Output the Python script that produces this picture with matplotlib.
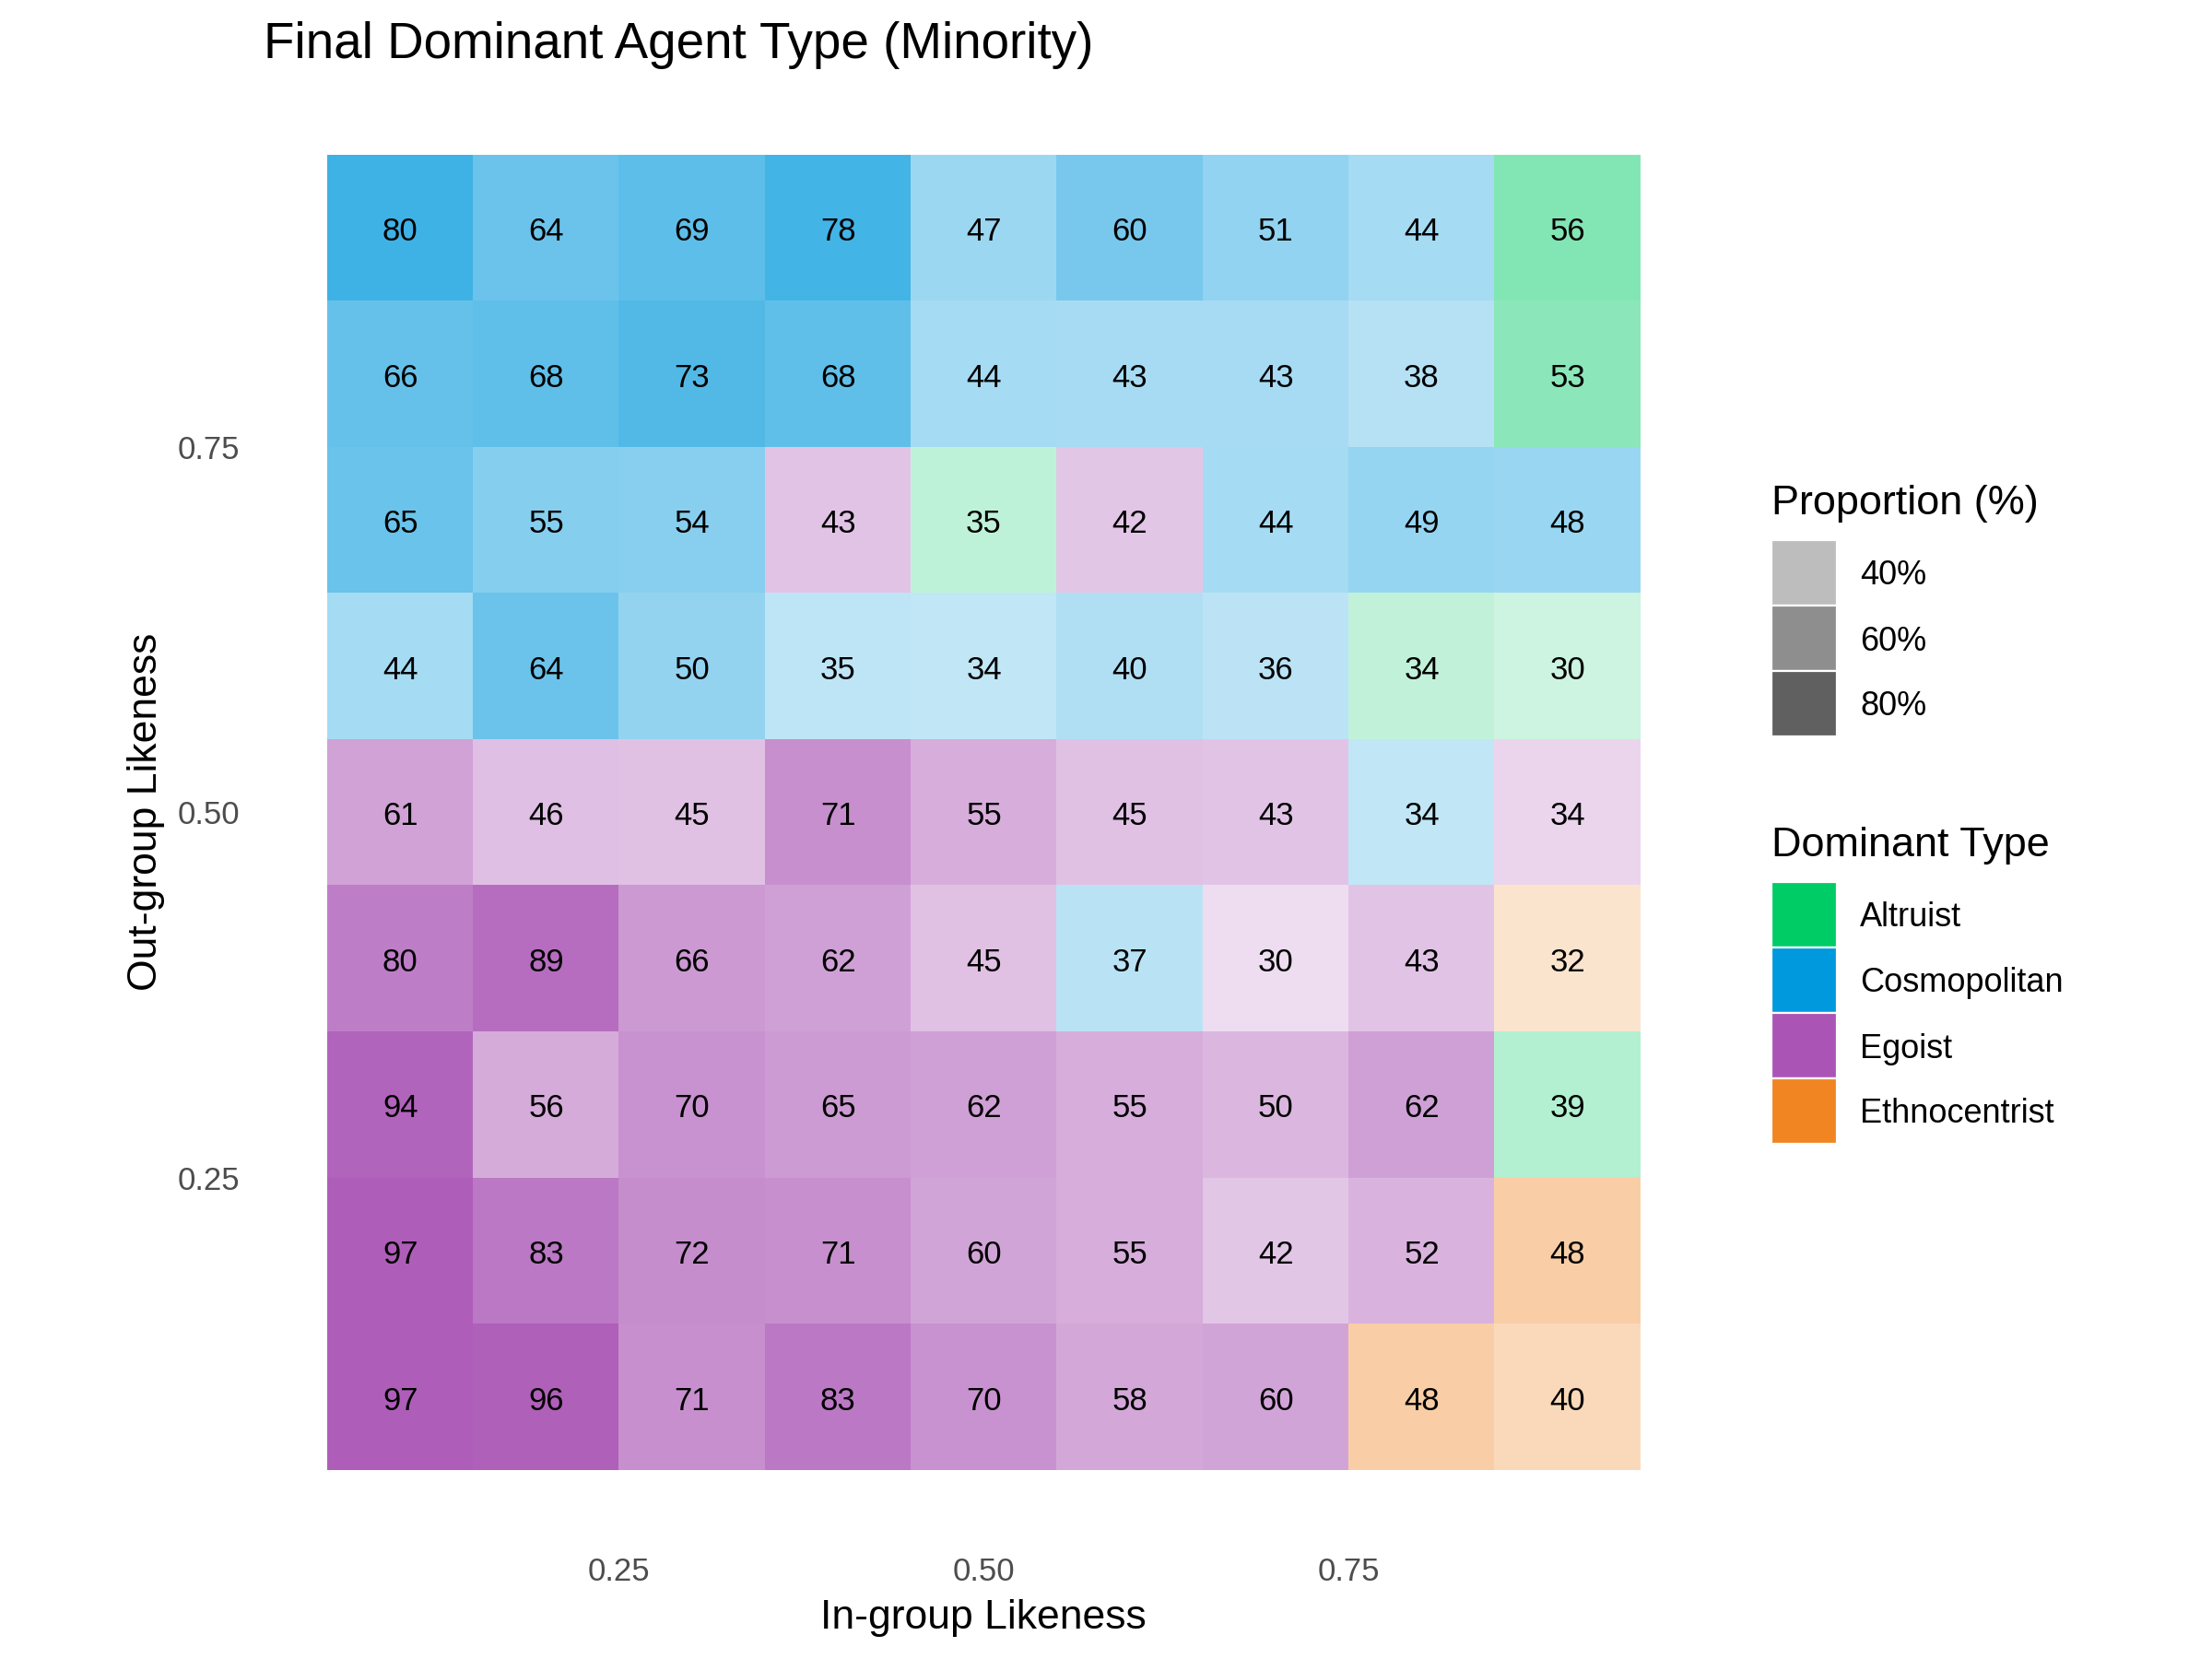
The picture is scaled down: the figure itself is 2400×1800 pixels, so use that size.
import numpy as np
import matplotlib
matplotlib.use("Agg")
import matplotlib.pyplot as plt
from matplotlib.colors import to_rgba
from matplotlib.patches import Rectangle

plt.rcParams['font.family'] = ['Liberation Sans', 'DejaVu Sans']

# tile centres
in_group = [0.1, 0.2, 0.3, 0.4, 0.5, 0.6, 0.7, 0.8, 0.9]
out_group = [0.9, 0.8, 0.7, 0.6, 0.5, 0.4, 0.3, 0.2, 0.1]   # rows listed top to bottom

# proportion (%) of the dominant type, rows from out-group 0.9 down to 0.1
proportion = [
    [80, 64, 69, 78, 47, 60, 51, 44, 56],
    [66, 68, 73, 68, 44, 43, 43, 38, 53],
    [65, 55, 54, 43, 35, 42, 44, 49, 48],
    [44, 64, 50, 35, 34, 40, 36, 34, 30],
    [61, 46, 45, 71, 55, 45, 43, 34, 34],
    [80, 89, 66, 62, 45, 37, 30, 43, 32],
    [94, 56, 70, 65, 62, 55, 50, 62, 39],
    [97, 83, 72, 71, 60, 55, 42, 52, 48],
    [97, 96, 71, 83, 70, 58, 60, 48, 40],
]
# A = Altruist, C = Cosmopolitan, G = Egoist, E = Ethnocentrist
dominant = [
    "CCCCCCCCA",
    "CCCCCCCCA",
    "CCCGAGCCC",
    "CCCCCCCAA",
    "GGGGGGGCG",
    "GGGGGCGGE",
    "GGGGGGGGA",
    "GGGGGGGGE",
    "GGGGGGGEE",
]
type_names = ["Altruist", "Cosmopolitan", "Egoist", "Ethnocentrist"]
type_codes = ["A", "C", "G", "E"]
type_colors = ["#00CC66", "#0099DD", "#AA55B5", "#F08522"]
legend_props = [40, 60, 80]
x_ticks = [0.25, 0.50, 0.75]
y_ticks = [0.25, 0.50, 0.75]

prop = np.array(proportion, dtype=float)
pmin, pmax = prop.min(), prop.max()


def alpha_of(p):
    # like scale_alpha(range = c(0.2, 0.95))
    return 0.2 + (p - pmin) / (pmax - pmin) * 0.75


code_color = dict(zip(type_codes, type_colors))
rgba = np.zeros((len(out_group), len(in_group), 4))
for i in range(len(out_group)):
    for j in range(len(in_group)):
        r, g, b, _ = to_rgba(code_color[dominant[i][j]])
        rgba[i, j] = (r, g, b, alpha_of(prop[i, j]))

W, H = 2400, 1800
fig = plt.figure(figsize=(12, 9), dpi=200)

def fx(px):
    return px / W

def fy(py):
    return 1 - py / H

ax = fig.add_axes([fx(355), fy(1595), fx(1780) - fx(355), fy(168) - fy(1595)])
step = in_group[1] - in_group[0]
ax.imshow(rgba, extent=(in_group[0] - step / 2, in_group[-1] + step / 2,
                        out_group[-1] - step / 2, out_group[0] + step / 2),
          origin='upper', interpolation='nearest', aspect='auto')

# numbers sit on the baseline, nudged so the digits are centred like in ggplot
for i, yv in enumerate(out_group):
    for j, xv in enumerate(in_group):
        ax.annotate("%d" % proportion[i][j], (xv, yv), xytext=(0, -5.0),
                    textcoords='offset points', ha='center', va='baseline',
                    fontsize=12.5, color='black')

ax.set_xlim(0.05, 0.95)
ax.set_ylim(0.05, 0.95)
ax.set_xticks(x_ticks)
ax.set_xticklabels(["%.2f" % t for t in x_ticks])
ax.set_yticks(y_ticks)
ax.set_yticklabels(["%.2f" % t for t in y_ticks])
ax.tick_params(length=0, pad=34, labelsize=12.5, labelcolor='#4D4D4D')
for s in ax.spines.values():
    s.set_visible(False)

fig.text(fx(286), fy(63), "Final Dominant Agent Type (Minority)", fontsize=19.7,
         ha='left', va='baseline')
fig.text(fx(1067), fy(1767), "In-group Likeness", fontsize=16,
         ha='center', va='baseline')
fig.text(fx(170), fy(881), "Out-group Likeness", fontsize=16, rotation=90,
         rotation_mode='anchor', ha='center', va='baseline')

# legends drawn by hand, ggplot style
key_w, key_h = 71, 71
grey_base = to_rgba("#2E2E2E")[:3]
fig.text(fx(1922), fy(558), "Proportion (%)", fontsize=16.2, ha='left', va='baseline')
top = 586
for k, p in enumerate(legend_props):
    y0 = top + k * key_h
    fig.patches.append(Rectangle((fx(1922), fy(y0 + key_h)), key_w / W, key_h / H,
                                 transform=fig.transFigure, facecolor=grey_base + (alpha_of(p),),
                                 edgecolor='white', linewidth=0.8))
    fig.text(fx(2018), fy(y0 + key_h / 2 + 13), "%d%%" % p, fontsize=13,
             ha='left', va='baseline')

fig.text(fx(1922), fy(929), "Dominant Type", fontsize=16.2, ha='left', va='baseline')
top = 957
for k, (name, col) in enumerate(zip(type_names, type_colors)):
    y0 = top + k * key_h
    fig.patches.append(Rectangle((fx(1922), fy(y0 + key_h)), key_w / W, key_h / H,
                                 transform=fig.transFigure, facecolor=col,
                                 edgecolor='white', linewidth=0.8))
    fig.text(fx(2018), fy(y0 + key_h / 2 + 13), name, fontsize=13,
             ha='left', va='baseline')

fig.savefig("out.png", dpi=200, facecolor='white')
